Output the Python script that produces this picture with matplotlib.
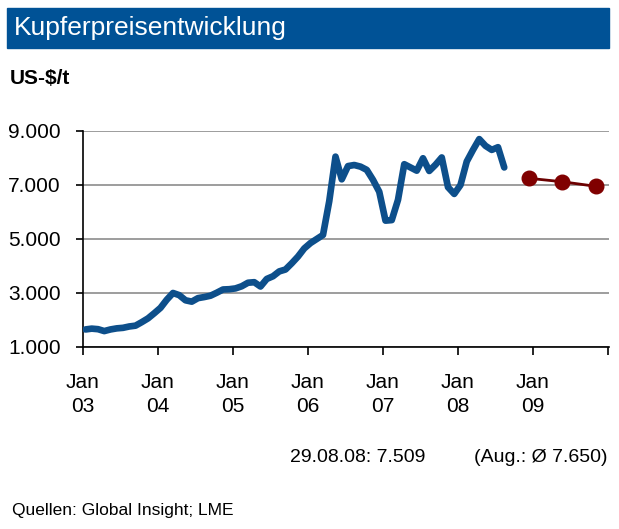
import matplotlib.pyplot as plt
from matplotlib.patches import Rectangle

plt.rcParams['font.family'] = ['Liberation Sans', 'DejaVu Sans']

# monthly LME copper price, Jan 2003 .. Aug 2008 (US-$/t)
prices = [
    1650, 1680, 1660, 1590, 1650, 1690, 1710, 1760, 1790, 1920, 2060, 2250,   # 2003
    2450, 2750, 3000, 2920, 2730, 2680, 2810, 2850, 2900, 3010, 3130, 3140,   # 2004
    3170, 3250, 3380, 3400, 3240, 3520, 3620, 3800, 3870, 4100, 4350, 4650,   # 2005
    4850, 5000, 5150, 6400, 8050, 7210, 7700, 7740, 7680, 7560, 7190, 6750,   # 2006
    5680, 5700, 6450, 7770, 7650, 7530, 7990, 7520, 7750, 8020, 6920, 6670,   # 2007
    7000, 7870, 8300, 8700, 8450, 8300, 8400, 7650,                           # 2008
]
# forecast points (months after Jan 2003) and values
fc_month = [71.3, 76.7, 82.1]
fc_value = [7250, 7120, 6950]

tick_labels = ['Jan\n03', 'Jan\n04', 'Jan\n05', 'Jan\n06', 'Jan\n07', 'Jan\n08', 'Jan\n09', '']
months = [i + 0.4 for i in range(len(prices))]

fig = plt.figure(figsize=(6.19, 5.29), dpi=100)
ax = fig.add_axes([83 / 619, 1 - 347 / 529, 526 / 619, 216 / 529])

ax.plot(months, prices, color='#0d4f8b', lw=4.8, solid_capstyle='round', solid_joinstyle='round', zorder=3)
ax.plot(fc_month, fc_value, color='#6b0000', lw=2, marker='o', ms=10.5,
        markerfacecolor='#800000', markeredgecolor='#800000', zorder=4)

ax.set_xlim(0, 84.16)
ax.set_ylim(1000, 9000)
ax.set_xticks(range(0, 85, 12))
ax.set_xticklabels(tick_labels, fontsize=15, linespacing=1.3)
ax.set_yticks([1000, 3000, 5000, 7000, 9000])
ax.set_yticklabels(['1.000', '3.000', '5.000', '7.000', '9.000'], fontsize=15)
ax.tick_params(axis='x', length=6, width=1.2, pad=13)
ax.tick_params(axis='y', length=5, width=1.2, pad=11)

ax.grid(axis='y', color='#8c8c8c', lw=1.2)
ax.set_axisbelow(True)
for s in ['top', 'right']:
    ax.spines[s].set_visible(False)
ax.spines['left'].set_linewidth(1.2)
ax.spines['bottom'].set_linewidth(1.2)
ax.spines['bottom'].set_zorder(5)

# title band
fig.patches.append(Rectangle((7 / 619, 1 - 48 / 529), 602 / 619, 40 / 529,
                             transform=fig.transFigure, color='#005296', zorder=0))
fig.text(14 / 619, 1 - 28 / 529, 'Kupferpreisentwicklung', color='white',
         fontsize=19, va='center', ha='left')
fig.text(10 / 619, 1 - 78 / 529, 'US-$/t', fontsize=15, fontweight='bold', va='center')

fig.text(358 / 619, 1 - 457 / 529, '29.08.08: 7.509', fontsize=14, ha='center', va='center')
fig.text(608 / 619, 1 - 457 / 529, '(Aug.: Ø 7.650)', fontsize=14, ha='right', va='center')
fig.text(12 / 619, 1 - 510 / 529, 'Quellen: Global Insight; LME', fontsize=12.5, va='center')

fig.savefig('out.png', dpi=100)
